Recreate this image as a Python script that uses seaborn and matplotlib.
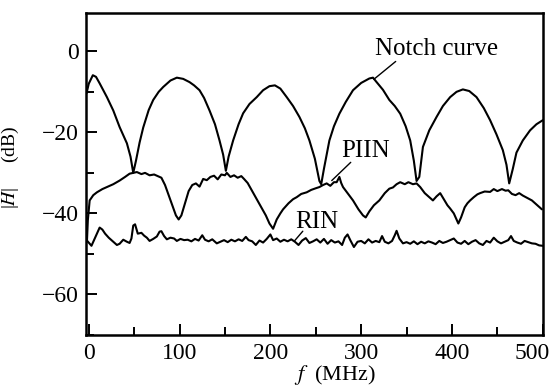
import numpy as np
import pandas as pd
import seaborn as sns
import matplotlib.pyplot as plt
import matplotlib.transforms as mtransforms
from matplotlib.ticker import MultipleLocator

# --- data ---
notch_f = [-2.5, 0, 4.5, 8, 12, 20, 27, 34, 42, 46, 49, 52, 56, 60, 66, 71, 77, 82, 90, 97,
           104, 111, 116, 122, 127, 133, 139, 144, 148, 151, 154, 159, 165, 170, 177, 185, 192,
           199, 205, 211, 218, 225, 232, 238, 243, 249, 254, 256, 259, 265, 270, 276, 283, 291,
           300, 309, 313, 317, 324, 331, 337, 343, 349, 354, 358, 361, 364, 368, 375, 383, 390,
           398, 405, 412, 419, 427, 435, 442, 449, 456, 460, 463, 467, 471, 478, 486, 493, 500]
notch_db = [-10.4, -8, -5.9, -6.3, -7.9, -11.3, -14.6, -18.7, -22.7, -26, -30, -27, -22.5, -18.8,
            -14.5, -12, -10, -8.8, -7.2, -6.5, -6.8, -7.6, -8.4, -9.6, -11.5, -14.6, -18, -22,
            -25.5, -29.5, -26, -22, -18, -15.3, -13, -11.3, -9.6, -8.6, -8.4, -9.2, -11.3, -13.5,
            -16.2, -19, -22, -26.5, -32, -32.8, -29, -22, -18.5, -15.4, -12.5, -9.6, -7.8, -6.7,
            -6.5, -7.6, -9.5, -12, -13.5, -15.4, -18.5, -22, -27, -32, -31, -23.6, -19.5, -16.2,
            -13.5, -11.3, -10, -9.4, -9.8, -11.3, -14, -17, -20.5, -24.4, -28, -32.6, -29, -25,
            -22, -19.5, -18, -17]

piin_f = [-2, -1, 1, 5, 9, 15, 20, 27, 34, 40, 45, 49, 53, 58, 62, 67, 72, 76, 80, 84, 88, 92,
          96, 99, 102, 106, 110, 114, 118, 122, 126, 130, 134, 138, 142, 146, 150, 152, 156, 160,
          164, 168, 171, 175, 180, 185, 190, 195, 199, 203, 207, 211, 214, 220, 225, 229, 234,
          240, 245, 250, 254, 258, 262, 266, 270, 273, 276, 278, 280, 285, 291, 297, 302, 305,
          309, 314, 320, 326, 331, 335, 339, 343, 348, 352, 357, 361, 365, 370, 375, 379, 383,
          387, 391, 395, 398, 402, 405, 407, 410, 414, 417, 420, 424, 428, 431, 436, 442, 446,
          450, 455, 459, 462, 466, 470, 474, 478, 483, 488, 493, 499]
piin_db = [-47, -41.7, -36.8, -35.5, -34.8, -34, -33.5, -32.8, -31.9, -31, -30.2, -30, -29.8,
           -30.3, -30, -30.6, -30.4, -30.8, -31.2, -33, -35.5, -38, -40.5, -41.5, -40.5, -37.5,
           -34.5, -33, -32.6, -33.4, -31.5, -31.8, -31, -30.7, -31.6, -30.4, -30.6, -30, -31,
           -30.6, -31.2, -30.8, -31.5, -32.5, -34.5, -36.5, -38.5, -40.5, -42.5, -43.8, -41.5,
           -40, -39, -37.5, -36.5, -36, -35.2, -34.8, -34.2, -33.8, -33.5, -33, -32.6, -33.2,
           -32.3, -32.3, -31, -32.5, -33.5, -35, -36.8, -39, -40.5, -41, -39.5, -38, -36.8, -35,
           -33.9, -33.6, -32.8, -32.3, -32.8, -32.3, -32.8, -32.6, -33.5, -35, -36, -36.8, -35.8,
           -35, -36.5, -38, -38.8, -40, -41.5, -42.5, -41, -38.5, -37.5, -36.8, -36, -35.3, -35,
           -34.6, -34.7, -34, -34.5, -34, -34.4, -34.3, -35.2, -35.5, -35, -35.6, -36.2, -36.8,
           -37.8, -39]

rin_f = [-2, 3, 8, 12, 15, 18, 22, 27, 31, 34, 38, 42, 45, 47, 49, 51, 54, 58, 61, 64, 67, 71,
         75, 78, 80, 83, 86, 90, 94, 97, 101, 105, 109, 113, 117, 121, 125, 128, 132, 136, 141,
         145, 149, 153, 157, 161, 165, 169, 173, 176, 180, 184, 188, 192, 196, 200, 203, 207,
         211, 215, 219, 223, 227, 231, 235, 239, 243, 247, 251, 255, 259, 263, 267, 271, 275,
         279, 282, 285, 288, 292, 296, 300, 304, 308, 312, 316, 320, 323, 326, 330, 334, 337,
         339, 342, 346, 350, 354, 358, 362, 366, 370, 374, 378, 382, 386, 390, 394, 398, 402,
         406, 410, 414, 418, 422, 426, 430, 434, 438, 442, 446, 450, 454, 458, 462, 465, 468,
         472, 476, 480, 484, 488, 492, 496, 500]
rin_db = [-46.7, -48, -45.5, -43.5, -44, -45, -46, -47, -47.8, -47.5, -46.5, -47, -47.3, -46.2,
          -43, -42.7, -45, -44.8, -45.5, -46, -46.8, -46.3, -45.7, -44.5, -44.4, -45.6, -46.4,
          -46, -46.2, -46.8, -46.3, -46.6, -46.5, -46.9, -46.3, -46.7, -45.4, -46.5, -46.9,
          -46.4, -47.4, -47, -46.6, -47.1, -46.5, -46.9, -46.4, -46.8, -45.8, -46.6, -46.9,
          -47.8, -46.7, -47.2, -46.3, -45.2, -46.6, -46.2, -47, -46.5, -46.9, -46.4, -47, -47.8,
          -46.7, -46.1, -47.3, -46.9, -46.4, -47.2, -46.3, -47.5, -46.6, -47.2, -46.9, -47.8,
          -46, -45.2, -46.6, -48.3, -47, -46.8, -47.4, -46.4, -47.2, -46.8, -47.1, -45.6, -47,
          -47.4, -46.8, -45.4, -44.3, -46.2, -47.4, -47.1, -47.5, -46.9, -47.6, -47, -47.4,
          -46.9, -47.2, -47.6, -46.8, -47.3, -47, -46.6, -46.2, -47.2, -47.5, -46.8, -47.6, -47,
          -46.6, -47.4, -47.8, -46.8, -47.2, -46, -46.9, -47.4, -47, -46.6, -45.6, -46.8, -47.2,
          -47.5, -46.8, -47.1, -47.4, -47.5, -47.9, -48]

x_ticks = [0, 100, 200, 300, 400, 500]
y_ticks = [0, -20, -40, -60]
y_ticklabels = ['0', '\u221220', '\u221240', '\u221260']

# curve labels: (text, text position, leader start, leader end)
labels = [
    ('Notch curve', (315, -1.0), (338, -2.5), (314, -6.9)),
    ('PIIN', (278.5, -26.2), (288.5, -27.4), (267.6, -31.9)),
    ('RIN', (227, -43.7), (235.7, -44.4), (226.9, -46.7)),
]

sns.set_theme(style='ticks')
plt.rcParams['font.family'] = ['Liberation Serif', 'DejaVu Serif']
plt.rcParams['mathtext.fontset'] = 'stix'
plt.rcParams['text.color'] = 'black'
plt.rcParams['axes.labelcolor'] = 'black'

fig = plt.figure(figsize=(5.55, 3.89), dpi=100)
ax = fig.add_axes([0.155, 0.139, 0.823, 0.828])

lw = 1.5
sns.lineplot(x=notch_f, y=notch_db, sort=False, estimator=None, color='black', lw=lw, ax=ax)
sns.lineplot(x=piin_f, y=piin_db, sort=False, estimator=None, color='black', lw=lw, ax=ax)
sns.lineplot(x=rin_f, y=rin_db, sort=False, estimator=None, color='black', lw=lw, ax=ax)

ax.set_xlim(-3, 500)
ax.set_ylim(-70, 9.5)
ax.set_xticks(x_ticks)
ax.set_yticks(y_ticks)
ax.set_yticklabels(y_ticklabels)
ax.xaxis.set_minor_locator(MultipleLocator(50))
ax.yaxis.set_minor_locator(MultipleLocator(10))
ax.tick_params(which='both', direction='in', width=1.4, colors='black', labelsize=17)
ax.tick_params(which='major', length=8)
ax.tick_params(which='minor', length=6)
ax.tick_params(axis='x', pad=6)
ax.tick_params(axis='y', pad=5)
for s in ax.spines.values():
    s.set_visible(True)
    s.set_linewidth(1.8)
    s.set_color('black')

# last x tick label sits left of its tick in the reference
fig.canvas.draw()
last = ax.get_xticklabels()[-1]
last.set_transform(last.get_transform() + mtransforms.ScaledTranslation(-0.11, 0, fig.dpi_scale_trans))

ax.set_xlabel('$f$  (MHz)', fontsize=16, color='black')
ax.xaxis.label.set_va('bottom')
ax.xaxis.set_label_coords(0.545, -0.163)
ax.set_ylabel('|$H$|     (dB)', fontsize=14, color='black')
ax.yaxis.set_label_coords(-0.142, 0.52)

for txt, pos, start, end in labels:
    ax.text(pos[0], pos[1], txt, fontsize=18, ha='left', va='baseline', color='black')
    ax.annotate('', xy=end, xytext=start,
                arrowprops=dict(arrowstyle='-', color='black', lw=1.0, shrinkA=0, shrinkB=0))

fig.savefig('out.png', dpi=100)
